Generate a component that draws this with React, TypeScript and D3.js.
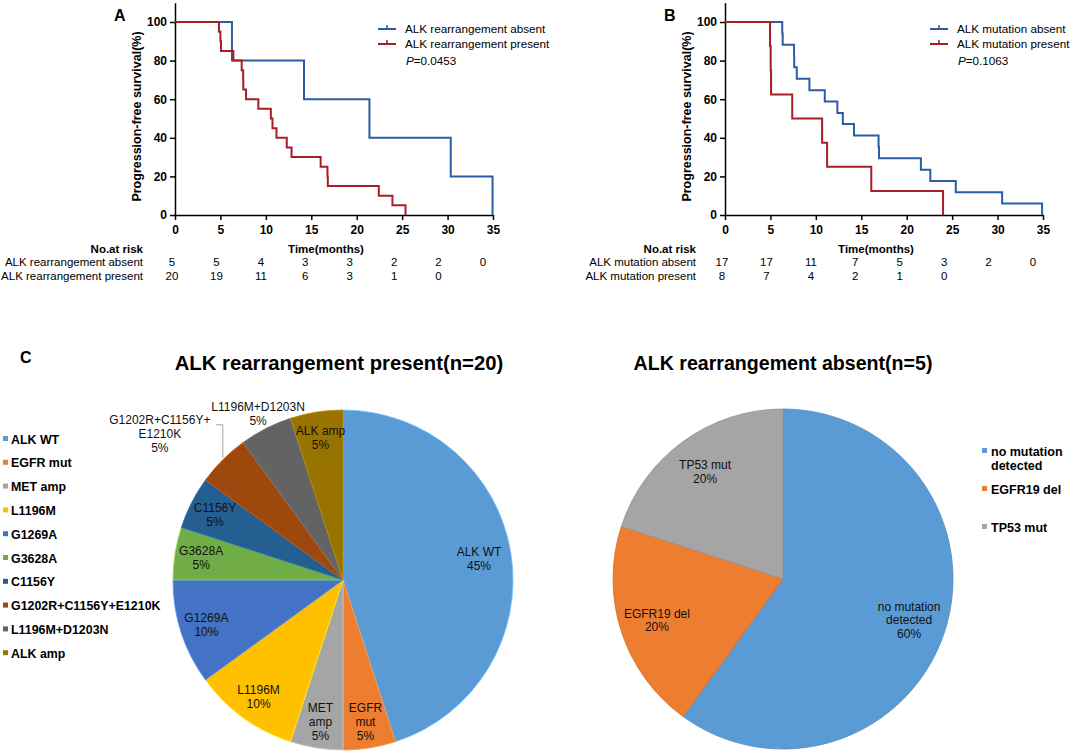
import React, { useEffect, useRef } from 'react';
import * as d3 from 'd3';

// ---- Kaplan-Meier data ----
const timeTicks = [0, 5, 10, 15, 20, 25, 30, 35];
const survTicks = [0, 20, 40, 60, 80, 100];

// panel A: ALK rearrangement
const rearrAbsentTimes = [6.27, 14.2, 21.4, 30.35, 34.95];
const rearrAbsentSurv = [80, 60, 40, 20, 0];
const rearrPresentTimes = [4.84, 5.0, 5.06, 6.42, 7.34, 7.5, 7.52, 7.82, 9.17, 10.55, 10.73, 11.17, 12.3, 12.83, 16.03, 16.78, 16.82, 22.43, 23.93, 25.37];
const rearrPresentSurv = [95, 90, 85, 80, 75, 70, 65, 60, 55, 50, 45, 40, 35, 30, 25, 20, 15, 10, 5, 0];
const rearrRiskAbsent = [5, 5, 4, 3, 3, 2, 2, 0];
const rearrRiskPresent = [20, 19, 11, 6, 3, 1, 0];

// panel B: ALK mutation
const mutAbsentTimes = [6.3, 6.35, 7.6, 7.62, 7.9, 9.29, 10.98, 12.37, 12.97, 14.2, 16.9, 16.95, 21.56, 22.6, 25.4, 30.5, 34.9];
const mutAbsentSurv = [94.1, 88.2, 82.4, 76.5, 70.6, 64.7, 58.8, 52.9, 47.1, 41.2, 35.3, 29.4, 23.5, 17.6, 11.8, 5.9, 0];
const mutPresentTimes = [4.96, 5.03, 5.07, 7.4, 10.69, 11.24, 16.1, 24.0];
const mutPresentSurv = [87.5, 75, 62.5, 50, 37.5, 25, 12.5, 0];
const mutRiskAbsent = [17, 17, 11, 7, 5, 3, 2, 0];
const mutRiskPresent = [8, 7, 4, 2, 1, 0];

// ---- pie data ----
const presentNames = ['ALK WT', 'EGFR mut', 'MET amp', 'L1196M', 'G1269A', 'G3628A', 'C1156Y', 'G1202R+C1156Y+E1210K', 'L1196M+D1203N', 'ALK amp'];
const presentLabels = [['ALK WT'], ['EGFR', 'mut'], ['MET', 'amp'], ['L1196M'], ['G1269A'], ['G3628A'], ['C1156Y'], ['G1202R+C1156Y+', 'E1210K'], ['L1196M+D1203N'], ['ALK amp']];
const presentCounts = [9, 1, 1, 2, 2, 1, 1, 1, 1, 1];
const presentColors = ['#5b9bd5', '#ed7d31', '#a5a5a5', '#ffc000', '#4472c4', '#70ad47', '#255e91', '#9e480e', '#636363', '#997300'];

const absentNames = ['no mutation detected', 'EGFR19 del', 'TP53 mut'];
const absentLegend = [['no mutation', 'detected'], ['EGFR19 del'], ['TP53 mut']];
const absentLabels = [['no mutation', 'detected'], ['EGFR19 del'], ['TP53  mut']];
const absentCounts = [3, 1, 1];
const absentColors = ['#5b9bd5', '#ed7d31', '#a5a5a5'];

const BLUE = '#2b5ca8';
const RED = '#a51f24';
const FONT = 'Arial, "Liberation Sans", sans-serif';

type Series = { times: number[]; surv: number[]; color: string; name: string };

const App: React.FC = () => {
  const svgRef = useRef<SVGSVGElement | null>(null);

  useEffect(() => {
    if (!svgRef.current) return;
    const svg = d3.select(svgRef.current);
    svg.selectAll('*').remove();
    svg.style('font-family', FONT);

    const drawKM = (opt: {
      letter: string; x0: number; x1: number; series: Series[]; p: string;
      riskNames: string[]; risk: number[][]; labelRight: number; legendX: number; yLabelX: number;
    }) => {
      const g = svg.append('g');
      const x = d3.scaleLinear().domain([0, 35]).range([opt.x0, opt.x1]);
      const y = d3.scaleLinear().domain([0, 110]).range([215, 215 - 193 * 1.1]);

      g.append('text').attr('x', opt.x0 - 61).attr('y', 21).attr('font-size', 16).attr('font-weight', 'bold').text(opt.letter);

      // axes
      const xa = g.append('g').attr('transform', `translate(0,${y(0)})`)
        .call(d3.axisBottom(x).tickValues(timeTicks).tickSize(5).tickSizeOuter(0).tickPadding(5));
      const ya = g.append('g').attr('transform', `translate(${x(0)},0)`)
        .call(d3.axisLeft(y).tickValues(survTicks).tickSize(5).tickSizeOuter(0).tickPadding(3));
      [xa, ya].forEach(a => {
        a.selectAll('path,line').attr('stroke', '#000').attr('stroke-width', 1.5);
        a.selectAll('text').attr('font-size', 12).attr('font-weight', 'bold').attr('fill', '#000').attr('font-family', FONT);
      });

      g.append('text')
        .attr('transform', `translate(${opt.yLabelX},${y(50) - 2}) rotate(-90)`)
        .attr('text-anchor', 'middle').attr('font-size', 12.5).attr('font-weight', 'bold')
        .text('Progression-free survival(%)');

      // curves
      const line = d3.line<[number, number]>().x(d => x(d[0])).y(d => y(d[1])).curve(d3.curveStepAfter);
      opt.series.forEach(s => {
        const pts: [number, number][] = [[0, 100], ...s.times.map((t, i) => [t, s.surv[i]] as [number, number])];
        g.append('path').attr('d', line(pts) || '').attr('fill', 'none')
          .attr('stroke', s.color).attr('stroke-width', 2);
      });

      // legend
      opt.series.forEach((s, i) => {
        const ly = 29 + i * 15;
        g.append('line').attr('x1', opt.legendX).attr('x2', opt.legendX + 18).attr('y1', ly).attr('y2', ly)
          .attr('stroke', s.color).attr('stroke-width', 2);
        g.append('line').attr('x1', opt.legendX + 9).attr('x2', opt.legendX + 9).attr('y1', ly - 4).attr('y2', ly)
          .attr('stroke', s.color).attr('stroke-width', 1.5);
        g.append('text').attr('x', opt.legendX + 27).attr('y', ly + 4).attr('font-size', 11.7).text(s.name);
      });
      const pt = g.append('text').attr('x', opt.legendX + 28).attr('y', 65).attr('font-size', 11.7);
      pt.append('tspan').attr('font-style', 'italic').text('P');
      pt.append('tspan').text(opt.p);

      // numbers at risk
      g.append('text').attr('x', opt.labelRight).attr('y', 253).attr('text-anchor', 'end')
        .attr('font-size', 11.5).attr('font-weight', 'bold').text('No.at risk');
      g.append('text').attr('x', x(17.5) - 8).attr('y', 253).attr('text-anchor', 'middle')
        .attr('font-size', 11.5).attr('font-weight', 'bold').text('Time(months)');
      const xr = d3.scaleLinear().domain([0, 35]).range([opt.x0 - 3, opt.x1 - 10]);
      opt.risk.forEach((row, r) => {
        const ry = 266 + r * 14;
        g.append('text').attr('x', opt.labelRight).attr('y', ry).attr('text-anchor', 'end')
          .attr('font-size', 11.5).text(opt.riskNames[r]);
        row.forEach((v, i) => {
          g.append('text').attr('x', xr(timeTicks[i])).attr('y', ry).attr('text-anchor', 'middle')
            .attr('font-size', 11.5).text(v);
        });
      });
    };

    drawKM({
      letter: 'A', x0: 175, x1: 493,
      series: [
        { times: rearrAbsentTimes, surv: rearrAbsentSurv, color: BLUE, name: 'ALK rearrangement absent' },
        { times: rearrPresentTimes, surv: rearrPresentSurv, color: RED, name: 'ALK rearrangement present' },
      ],
      p: '=0.0453',
      riskNames: ['ALK rearrangement absent', 'ALK rearrangement present'],
      risk: [rearrRiskAbsent, rearrRiskPresent],
      labelRight: 143, legendX: 378, yLabelX: 141,
    });
    drawKM({
      letter: 'B', x0: 725, x1: 1043,
      series: [
        { times: mutAbsentTimes, surv: mutAbsentSurv, color: BLUE, name: 'ALK mutation absent' },
        { times: mutPresentTimes, surv: mutPresentSurv, color: RED, name: 'ALK mutation present' },
      ],
      p: '=0.1063',
      riskNames: ['ALK mutation absent', 'ALK mutation present'],
      risk: [mutRiskAbsent, mutRiskPresent],
      labelRight: 696, legendX: 930, yLabelX: 691,
    });

    // ---- panel C ----
    svg.append('text').attr('x', 20).attr('y', 363).attr('font-size', 16).attr('font-weight', 'bold').text('C');

    const R = 170;
    const arc = d3.arc<d3.PieArcDatum<number>>().innerRadius(0).outerRadius(R);
    const pie = d3.pie<number>().sort(null).value(d => d);

    const drawLabel = (g: any, lines: string[], cx: number, cy: number, fs: number, lh: number) => {
      const t = g.append('text').attr('text-anchor', 'middle').attr('font-size', fs).attr('fill', '#111');
      lines.forEach((l, k) => {
        t.append('tspan').attr('x', cx).attr('y', cy + (k - (lines.length - 1) / 2) * lh + fs * 0.36).text(l);
      });
    };

    // left pie
    const lc = { x: 343, y: 580 };
    svg.append('text').attr('x', lc.x - 4).attr('y', 370).attr('text-anchor', 'middle')
      .attr('font-size', 20.3).attr('font-weight', 'bold').text('ALK rearrangement present(n=20)');
    const lg = svg.append('g').attr('transform', `translate(${lc.x},${lc.y})`);
    const lArcs = pie(presentCounts);
    const total = d3.sum(presentCounts);
    lg.selectAll('path').data(lArcs).join('path')
      .attr('d', d => arc(d) || '')
      .attr('fill', (_, i) => presentColors[i])
      .attr('stroke', (_, i) => d3.color(presentColors[i])!.brighter(0.6).formatHex())
      .attr('stroke-width', 0.8);
    lArcs.forEach((a, i) => {
      const mid = (a.startAngle + a.endAngle) / 2;
      const pct = `${Math.round((a.value / total) * 100)}%`;
      const lines = [...presentLabels[i], pct];
      if (i === 7) {
        // outside label with leader line
        const ex = Math.sin(mid) * R, ey = -Math.cos(mid) * R;
        const lx = ex - 63, ly = ey - 26;
        lg.append('polyline')
          .attr('points', `${ex},${ey - 2} ${ex},${ly - 9} ${ex - 7},${ly - 9}`)
          .attr('fill', 'none').attr('stroke', '#a6a6a6').attr('stroke-width', 1);
        drawLabel(lg, lines, lx, ly, 12, 14);
      } else {
        const f = i === 8 ? 1.1 : i === 0 ? 0.81 : 0.845;
        drawLabel(lg, lines, Math.sin(mid) * R * f, -Math.cos(mid) * R * f, 12, 14);
      }
    });
    presentNames.forEach((n, i) => {
      const yy = 439 + i * 23.8;
      svg.append('rect').attr('x', 3).attr('y', yy - 3).attr('width', 5).attr('height', 5).attr('fill', presentColors[i]);
      svg.append('text').attr('x', 11).attr('y', yy + 4.5).attr('font-size', 12.4).attr('font-weight', 'bold').text(n);
    });

    // right pie
    const rc = { x: 783, y: 579 };
    svg.append('text').attr('x', rc.x).attr('y', 370).attr('text-anchor', 'middle')
      .attr('font-size', 19.6).attr('font-weight', 'bold').text('ALK rearrangement absent(n=5)');
    const rg = svg.append('g').attr('transform', `translate(${rc.x},${rc.y})`);
    const rArcs = pie(absentCounts);
    const rTotal = d3.sum(absentCounts);
    rg.selectAll('path').data(rArcs).join('path')
      .attr('d', d => arc(d) || '')
      .attr('fill', (_, i) => absentColors[i])
      .attr('stroke', (_, i) => d3.color(absentColors[i])!.darker(0.3).formatHex())
      .attr('stroke-width', 0.8);
    rArcs.forEach((a, i) => {
      const mid = (a.startAngle + a.endAngle) / 2;
      const pct = `${Math.round((a.value / rTotal) * 100)}%`;
      drawLabel(rg, [...absentLabels[i], pct], Math.sin(mid) * R * 0.78, -Math.cos(mid) * R * 0.78, 12, 13.5);
    });
    absentNames.forEach((_, i) => {
      const yy = 451 + i * 38;
      svg.append('rect').attr('x', 982).attr('y', yy - 3).attr('width', 5).attr('height', 5).attr('fill', absentColors[i]);
      const t = svg.append('text').attr('font-size', 12.5).attr('font-weight', 'bold');
      absentLegend[i].forEach((l, k) => {
        t.append('tspan').attr('x', 991).attr('y', yy + 4.5 + k * 14).text(l);
      });
    });
  }, []);

  return (
    <svg ref={svgRef} width={1072} height={752}
      style={{ position: 'absolute', left: 0, top: 0, background: '#fff' }} />
  );
};

export default App;
